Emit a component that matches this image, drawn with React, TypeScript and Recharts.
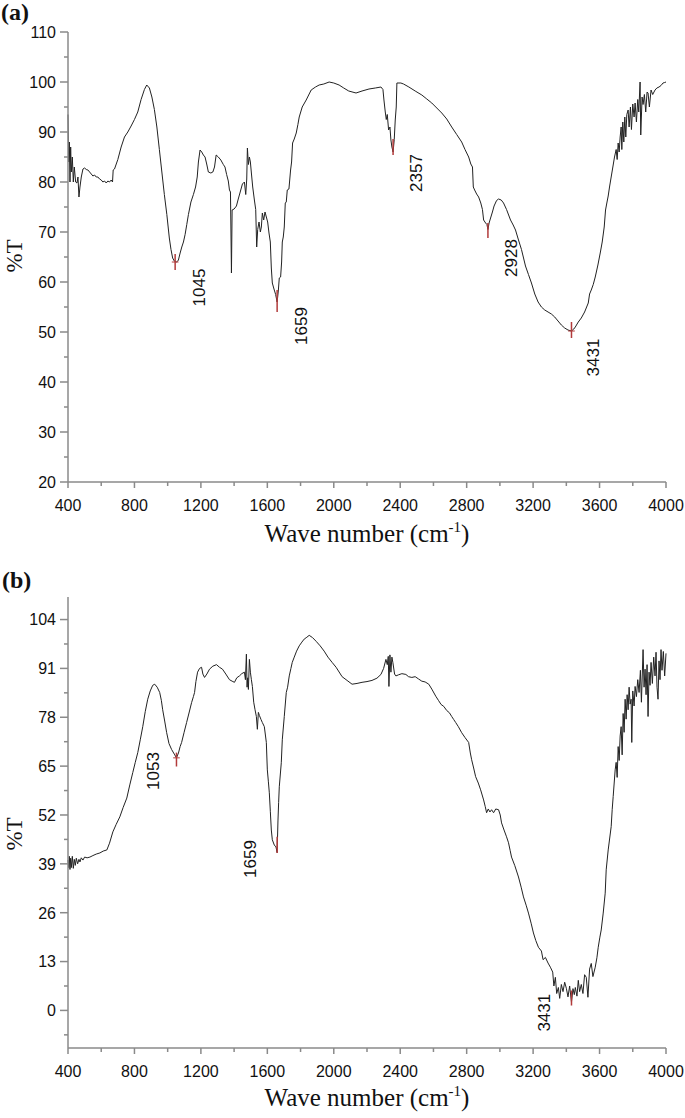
import React from "react";
import { LineChart, Line, XAxis, YAxis, ReferenceLine, ReferenceDot } from "recharts";

// ---- panel (a) spectrum ----
const waveA = [
  400, 404, 408, 412, 416, 420, 426, 432, 438, 446,
  454, 460, 466, 472, 480, 490, 500, 510, 520, 530,
  540, 550, 560, 570, 580, 590, 600, 610, 620, 630,
  640, 650, 660, 668, 672, 680, 700, 720, 740, 760,
  780, 800, 820, 840, 860, 874, 890, 905, 920, 935,
  950, 965, 980, 995, 1010, 1020, 1030, 1040, 1052, 1064,
  1075, 1085, 1095, 1105, 1115, 1125, 1140, 1155, 1168, 1178,
  1185, 1195, 1205, 1215, 1225, 1235, 1245, 1260, 1272, 1282,
  1292, 1305, 1320, 1335, 1345, 1355, 1365, 1372, 1378, 1384,
  1388, 1400, 1414, 1425, 1435, 1450, 1462, 1470, 1476, 1480,
  1486, 1492, 1498, 1504, 1512, 1522, 1530, 1536, 1542, 1550,
  1558, 1564, 1570, 1578, 1586, 1594, 1602, 1610, 1618, 1624,
  1630, 1640, 1650, 1659, 1666, 1672, 1680, 1686, 1690, 1696,
  1702, 1708, 1714, 1720, 1730, 1740, 1746, 1752, 1762, 1774,
  1784, 1792, 1810, 1834, 1864, 1890, 1912, 1940, 1972, 2000,
  2032, 2060, 2090, 2134, 2170, 2212, 2250, 2284, 2296, 2302,
  2310, 2316, 2322, 2330, 2338, 2344, 2350, 2357, 2364, 2370,
  2376, 2380, 2404, 2420, 2452, 2490, 2530, 2560, 2590, 2620,
  2650, 2680, 2710, 2740, 2770, 2790, 2812, 2825, 2835, 2840,
  2848, 2860, 2872, 2885, 2895, 2902, 2914, 2922, 2928, 2935,
  2944, 2955, 2965, 2980, 2992, 3008, 3022, 3040, 3064, 3080,
  3094, 3112, 3130, 3154, 3172, 3190, 3210, 3230, 3250, 3270,
  3290, 3310, 3330, 3350, 3370, 3390, 3410, 3431, 3445, 3454,
  3472, 3490, 3510, 3532, 3540, 3550, 3562, 3574, 3590, 3604,
  3616, 3628, 3636, 3645, 3652, 3660, 3670, 3680, 3690, 3700,
  3706, 3712, 3718, 3724, 3730, 3734, 3740, 3746, 3752, 3758,
  3764, 3772, 3778, 3786, 3792, 3800, 3808, 3814, 3822, 3830,
  3836, 3844, 3848, 3856, 3862, 3870, 3878, 3886, 3892, 3900,
  3910, 3920, 3934, 3945, 3958, 3970, 3982, 3992, 4000,
];
const transA = [
  93.5, 84, 88, 80, 87, 82, 85, 80, 83, 80,
  79.8, 81, 77, 79, 81, 82.6, 82.8, 82.5, 82.4, 82,
  81.6, 81.2, 81.4, 81, 81, 80.6, 80.4, 80, 80.2, 79.8,
  80.2, 80, 80.4, 80, 82.4, 82.6, 84.5, 87, 89, 90,
  91.2, 92.5, 94, 96.5, 98.5, 99.4, 98.8, 97, 94.5, 91,
  86.5, 82, 77.5, 73.5, 68.8, 66.5, 64.8, 64.2, 64, 64.3,
  65.8, 67, 68, 69.5, 71.5, 73.5, 76, 77.5, 79, 81,
  84, 86.4, 86, 85.4, 85, 83.6, 82, 81.8, 82, 83,
  85.4, 85, 84.4, 83.5, 83, 81.5, 80.2, 78.4, 78, 61.8,
  74.4, 74.6, 75.2, 76.6, 77.8, 79.6, 80, 77.5, 80.6, 86.8,
  83.5, 85, 84, 81.8, 79, 76.4, 74.5, 67, 70.5, 72,
  70, 71, 73.8, 72.4, 74, 73, 72, 69.8, 68, 62.8,
  59.8, 58.6, 57.5, 56, 58.2, 60.8, 61, 64, 68, 69,
  71, 75.8, 76, 78.4, 78.6, 82.4, 84, 87.8, 88.6, 89.8,
  91.5, 93, 95, 96.4, 98.4, 99, 99.4, 99.6, 100, 99.8,
  99.4, 98.8, 98.2, 97.8, 98.2, 98.6, 98.8, 99, 98.5, 96.4,
  94, 92.5, 93.5, 90.4, 91, 88.4, 87, 86, 88.5, 92.4,
  95, 99.8, 99.8, 99.6, 99, 98.2, 97.4, 96.6, 95.8, 94.8,
  93.8, 92.6, 91, 89.5, 88, 86.5, 85, 83.6, 83, 79,
  78.4, 77.6, 77, 75.8, 74.5, 72.4, 71.8, 71.5, 70.5, 71.8,
  72.8, 74, 75.2, 76.3, 76.6, 76.4, 75.8, 74.5, 72.4, 71.4,
  70.4, 68.4, 66.5, 63.2, 61.5, 59.8, 57.6, 56, 55, 54.4,
  54, 53.6, 53, 52.2, 51.4, 50.8, 50.4, 50.2, 50.6, 51,
  52, 52.8, 54, 55.8, 57.6, 58.4, 59.5, 61, 63.4, 65.8,
  68, 71, 74.4, 76, 77.2, 79, 81, 83, 85, 86.5,
  84.5, 87.8, 86, 89, 91, 86.5, 92, 88, 93, 89,
  93.5, 94.4, 91, 95, 90.5, 95.6, 93, 95.8, 92, 96.5,
  94, 100, 89.4, 97, 95.5, 97.5, 94, 98, 97.8, 95,
  98.4, 97.5, 98.4, 98.8, 99, 99.3, 99.8, 99.9, 100,
];

// ---- panel (b) spectrum ----
const waveB = [
  400, 404, 408, 412, 416, 420, 426, 432, 438, 444,
  450, 458, 466, 472, 480, 490, 500, 515, 532, 550,
  570, 592, 612, 634, 650, 670, 690, 712, 732, 754,
  772, 790, 805, 820, 835, 850, 865, 880, 895, 910,
  922, 937, 952, 962, 970, 982, 994, 1008, 1024, 1040,
  1053, 1065, 1075, 1084, 1099, 1114, 1130, 1144, 1155, 1162,
  1170, 1180, 1192, 1204, 1212, 1222, 1236, 1252, 1272, 1294,
  1312, 1330, 1350, 1372, 1388, 1402, 1416, 1432, 1446, 1462,
  1468, 1474, 1478, 1482, 1486, 1492, 1498, 1504, 1510, 1518,
  1526, 1534, 1540, 1546, 1552, 1562, 1570, 1582, 1594, 1600,
  1606, 1612, 1618, 1624, 1630, 1642, 1652, 1659, 1664, 1668,
  1672, 1684, 1690, 1702, 1714, 1722, 1732, 1742, 1750, 1762,
  1776, 1792, 1808, 1822, 1838, 1852, 1872, 1894, 1918, 1942,
  1965, 1990, 2014, 2050, 2080, 2110, 2140, 2170, 2200, 2230,
  2260, 2284, 2300, 2314, 2322, 2328, 2332, 2338, 2344, 2350,
  2356, 2366, 2374, 2390, 2410, 2434, 2450, 2470, 2490, 2510,
  2530, 2550, 2572, 2590, 2614, 2630, 2646, 2662, 2680, 2696,
  2710, 2722, 2734, 2750, 2770, 2790, 2812, 2822, 2830, 2842,
  2854, 2870, 2884, 2902, 2912, 2920, 2930, 2940, 2950, 2962,
  2975, 2992, 3002, 3010, 3025, 3040, 3052, 3062, 3070, 3090,
  3112, 3128, 3142, 3158, 3172, 3188, 3202, 3216, 3232, 3250,
  3260, 3274, 3290, 3304, 3318, 3325, 3334, 3342, 3352, 3360,
  3370, 3380, 3390, 3400, 3410, 3420, 3431, 3440, 3448, 3454,
  3464, 3472, 3480, 3490, 3500, 3510, 3520, 3530, 3540, 3550,
  3560, 3574, 3584, 3592, 3602, 3610, 3622, 3634, 3640, 3652,
  3670, 3676, 3682, 3694, 3700, 3706, 3712, 3718, 3724, 3730,
  3736, 3742, 3748, 3754, 3760, 3766, 3772, 3778, 3784, 3790,
  3794, 3800, 3808, 3814, 3822, 3830, 3838, 3846, 3852, 3862,
  3868, 3874, 3880, 3886, 3892, 3898, 3904, 3910, 3918, 3926,
  3934, 3940, 3946, 3952, 3958, 3964, 3970, 3976, 3984, 3992,
  4000,
];
const transB = [
  40, 38, 41, 37.5, 40.5, 38, 41, 37.8, 40.2, 38.6,
  40.5, 39, 40.2, 39.5, 40.6, 40, 40.8, 40.6, 40.8, 41.2,
  41.6, 41.9, 42.4, 42.7, 44.5, 47.5, 49.5, 51.5, 54, 56.5,
  60, 63.3, 66, 68.6, 72, 75.5, 79.5, 82.8, 85, 86.5,
  86.8, 86, 84.6, 82.5, 80, 77, 73.9, 71, 69.4, 68.2,
  67.2, 68.5, 70.2, 71.3, 74, 76.6, 79.4, 81.9, 83.5, 84.6,
  87.5, 90, 91, 91.3, 89.5, 88.6, 89.5, 90.8, 91.6, 92,
  91.3, 90.8, 89.5, 88, 87.6, 87.3, 88.5, 89, 89.6, 90,
  88, 94.8, 86, 88.5, 85.4, 93.4, 90, 88, 86.2, 82,
  80, 78.2, 74.8, 79.3, 78.5, 77.4, 76.6, 75.5, 71.3, 64,
  61, 57.9, 53, 48, 45.4, 44, 43.5, 42, 50.4, 55.3,
  59.5, 65.9, 72, 78.2, 84.6, 86, 89, 91, 92.6, 94,
  95.6, 97, 98, 98.8, 99.3, 99.8, 99.2, 98.2, 97, 95.6,
  94, 92.6, 91.3, 88.8, 87.8, 86.8, 87, 87.3, 87.5, 87.8,
  88.4, 89.4, 91, 93.4, 92, 94.2, 86.2, 94.6, 90, 94,
  92.5, 89.5, 89, 89.3, 89.6, 89.4, 88.8, 88.6, 88.8, 88.2,
  87.6, 87.4, 86.8, 85.5, 83.6, 82.5, 81.4, 80.9, 79.8, 79.2,
  78.2, 77.4, 76.6, 75.5, 73.9, 72.6, 71.3, 68.5, 66.7, 64.5,
  62.2, 60.5, 58.7, 56, 54.2, 52.6, 53.6, 52.8, 53.4, 52.6,
  53.6, 53.4, 52, 49.9, 48, 46.2, 44.6, 42.5, 40.8, 38.5,
  35.5, 32.8, 30.2, 28, 25.9, 23.2, 20.6, 18.6, 16.8, 15.8,
  13.5, 14.1, 12.6, 11.5, 10.2, 6.5, 8.8, 4.5, 6.1, 3.2,
  6.9, 5, 7.5, 5.9, 3.6, 6.5, 2.2, 5.8, 4.2, 6.1,
  3.8, 8, 5, 6.9, 4.5, 9.5, 8.8, 3.5, 11, 12.5,
  9, 11.5, 14, 16.8, 19.5, 21.4, 25.9, 31.2, 37.4, 42.7,
  48.9, 53.4, 56.9, 64, 66, 62, 70.2, 66.5, 73, 75.5,
  68, 79, 74, 82.8, 77.5, 84, 80, 86, 81.5, 82.8,
  71.3, 85, 81, 86.2, 83.5, 88, 84.6, 90.5, 82, 96,
  86, 90.8, 84, 92, 78.2, 90, 86.5, 92.6, 87, 94,
  89, 95.3, 86, 82.8, 93, 88, 96, 90.5, 95.5, 89,
  95,
];

// ---- axes ----
const xTicks = [400, 600, 800, 1000, 1200, 1400, 1600, 1800, 2000, 2200, 2400, 2600, 2800, 3000, 3200, 3400, 3600, 3800, 4000];
const yTicksA = [20, 25, 30, 35, 40, 45, 50, 55, 60, 65, 70, 75, 80, 85, 90, 95, 100, 105, 110];
const yTicksB = [-6.5, 0, 6.5, 13, 19.5, 26, 32.5, 39, 45.5, 52, 58.5, 65, 71.5, 78, 84.5, 91, 97.5, 104];

// ---- peak picks ----
const peaksA = [1045, 1659, 2357, 2928, 3431];
const peakLoA = [62.4, 54, 85.4, 68.8, 48.8];
const peakHiA = [65.6, 58.4, 88.6, 71.8, 52];
const crossA: (number | null)[] = [64, null, null, null, 50.2];
const labelXA = [1189, 1807, 2497, 3067, 3565];
const labelYA = [58.9, 51.2, 81.8, 64.8, 44.9];

const peaksB = [1053, 1659, 3431];
const peakLoB = [64.9, 41.9, 1.3];
const peakHiB = [68.6, 46.2, 5.3];
const crossB: (number | null)[] = [67.2, null, null];
const labelXB = [913, 1501, 3271];
const labelYB = [63.7, 40.3, -0.6];

const AXIS = "#8a8a8a";
const SANS = "'Liberation Sans', Arial, sans-serif";
const SERIF = "'Liberation Serif', 'Times New Roman', serif";
const PEAK = "#b23b3b";

const rowsA = waveA.map((w, i) => ({ wn: w, t: transA[i] }));
const rowsB = waveB.map((w, i) => ({ wn: w, t: transB[i] }));

const bottomTick = (p: any) => {
  const v = p.payload.value;
  const major = (v - 400) % 400 === 0;
  return (
    <g>
      <line x1={p.x} x2={p.x} y1={p.y} y2={p.y + (major ? 6 : 4)} stroke={AXIS} strokeWidth={1.5} />
      {major && (
        <text x={p.x} y={p.y + 29} textAnchor="middle" fontSize={16} fill="#111" fontFamily={SANS}>
          {v}
        </text>
      )}
    </g>
  );
};

const topTick = (p: any) => (
  <line x1={p.x} x2={p.x} y1={p.y} y2={p.y + 5} stroke={AXIS} strokeWidth={1.5} />
);

const rightTick = (p: any) => (
  <line x1={p.x} x2={p.x - 5} y1={p.y} y2={p.y} stroke={AXIS} strokeWidth={1.5} />
);

const leftTick = (step: number) => (p: any) => {
  const v = p.payload.value;
  const major = Math.abs(v / step - Math.round(v / step)) < 1e-6;
  return (
    <g>
      <line x1={p.x} x2={p.x - (major ? 8 : 4)} y1={p.y} y2={p.y} stroke={AXIS} strokeWidth={1.5} />
      {major && (
        <text x={p.x - 12} y={p.y + 5.8} textAnchor="end" fontSize={16} fill="#111" fontFamily={SANS}>
          {v}
        </text>
      )}
    </g>
  );
};

const peakLabel = (text: string) => (p: any) => (
  <text
    x={p.cx}
    y={p.cy}
    transform={`rotate(-90 ${p.cx} ${p.cy})`}
    textAnchor="middle"
    dominantBaseline="central"
    fontSize={17}
    fill="#111"
    fontFamily={SANS}
  >
    {text}
  </text>
);

function Panel({
  rows,
  yDomain,
  yTicks,
  yStep,
  peaks,
  lo,
  hi,
  cross,
  labelX,
  labelY,
  height,
  top,
  bottom,
}: {
  rows: { wn: number; t: number }[];
  yDomain: [number, number];
  yTicks: number[];
  yStep: number;
  peaks: number[];
  lo: number[];
  hi: number[];
  cross: (number | null)[];
  labelX: number[];
  labelY: number[];
  height: number;
  top: number;
  bottom: number;
}) {
  return (
    <LineChart width={685} height={height} data={rows} margin={{ top, right: 19, bottom, left: 0 }}>
      <XAxis
        dataKey="wn"
        type="number"
        domain={[400, 4000]}
        ticks={xTicks}
        interval={0}
        height={40}
        tickSize={0}
        tickMargin={0}
        tickLine={false}
        tick={bottomTick}
        axisLine={{ stroke: AXIS, strokeWidth: 1.5 }}
      />
      <XAxis
        xAxisId="top"
        orientation="top"
        type="number"
        domain={[400, 4000]}
        ticks={xTicks}
        interval={0}
        height={0}
        tickSize={0}
        tickMargin={0}
        tickLine={false}
        tick={topTick}
        axisLine={{ stroke: AXIS, strokeWidth: 1.5 }}
      />
      <YAxis
        type="number"
        domain={yDomain}
        ticks={yTicks}
        interval={0}
        width={68}
        tickSize={0}
        tickMargin={0}
        tickLine={false}
        tick={leftTick(yStep)}
        axisLine={{ stroke: AXIS, strokeWidth: 1.5 }}
      />
      <YAxis
        yAxisId="right"
        orientation="right"
        type="number"
        domain={yDomain}
        ticks={yTicks}
        interval={0}
        width={0}
        tickSize={0}
        tickMargin={0}
        tickLine={false}
        tick={rightTick}
        axisLine={{ stroke: AXIS, strokeWidth: 1.5 }}
      />
      <Line
        type="linear"
        dataKey="t"
        stroke="#222"
        strokeWidth={1}
        dot={false}
        isAnimationActive={false}
      />
      {peaks.map((p, i) => (
        <ReferenceLine
          key={`v${p}`}
          segment={[
            { x: p, y: lo[i] },
            { x: p, y: hi[i] },
          ]}
          stroke={PEAK}
          strokeWidth={1.5}
        />
      ))}
      {peaks.map((p, i) =>
        cross[i] == null ? null : (
          <ReferenceLine
            key={`h${p}`}
            segment={[
              { x: p - 20, y: cross[i] as number },
              { x: p + 20, y: cross[i] as number },
            ]}
            stroke={PEAK}
            strokeWidth={1}
          />
        )
      )}
      {peaks.map((p, i) => (
        <ReferenceDot key={`l${p}`} x={labelX[i]} y={labelY[i]} r={0} shape={peakLabel(String(p))} />
      ))}
    </LineChart>
  );
}

export default function App() {
  return (
    <div style={{ position: "absolute", left: 0, top: 0, width: 685, height: 1118, background: "#fff" }}>
      <div style={{ position: "absolute", left: 0, top: 0 }}>
        <Panel
          rows={rowsA}
          yDomain={[20, 110]}
          yTicks={yTicksA}
          yStep={10}
          peaks={peaksA}
          lo={peakLoA}
          hi={peakHiA}
          cross={crossA}
          labelX={labelXA}
          labelY={labelYA}
          height={560}
          top={32}
          bottom={38}
        />
      </div>
      <div style={{ position: "absolute", left: 0, top: 560 }}>
        <Panel
          rows={rowsB}
          yDomain={[-10, 110]}
          yTicks={yTicksB}
          yStep={13}
          peaks={peaksB}
          lo={peakLoB}
          hi={peakHiB}
          cross={crossB}
          labelX={labelXB}
          labelY={labelYB}
          height={558}
          top={37}
          bottom={30}
        />
      </div>
      <svg
        width={685}
        height={1118}
        style={{ position: "absolute", left: 0, top: 0, pointerEvents: "none" }}
      >
        <text x={1} y={20} fontSize={24} fontWeight="bold" fontFamily={SERIF} fill="#111">
          (a)
        </text>
        <text x={2} y={588} fontSize={24} fontWeight="bold" fontFamily={SERIF} fill="#111">
          (b)
        </text>
        <text x={22} y={256} transform="rotate(-90 22 256)" textAnchor="middle" fontSize={23} fontFamily={SERIF} fill="#111">
          %T
        </text>
        <text x={22} y={834} transform="rotate(-90 22 834)" textAnchor="middle" fontSize={23} fontFamily={SERIF} fill="#111">
          %T
        </text>
        <text x={367} y={542} textAnchor="middle" fontSize={25} fontFamily={SERIF} fill="#111">
          Wave number (cm<tspan dy={-10} fontSize={15}>-1</tspan>
          <tspan dy={10}>)</tspan>
        </text>
        <text x={367} y={1106} textAnchor="middle" fontSize={25} fontFamily={SERIF} fill="#111">
          Wave number (cm<tspan dy={-10} fontSize={15}>-1</tspan>
          <tspan dy={10}>)</tspan>
        </text>
      </svg>
    </div>
  );
}
